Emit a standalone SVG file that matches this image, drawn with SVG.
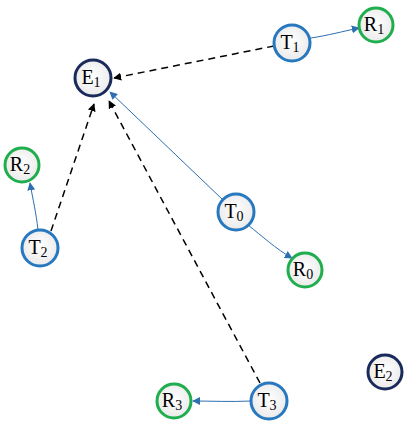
<svg xmlns="http://www.w3.org/2000/svg" width="410" height="425" viewBox="0 0 410 425">
<style>
.n{fill:url(#g);stroke-width:3}
.t{stroke:#2878c0}
.r{stroke:#1fae4e}
.e{stroke:#1a2a5a}
.lb{font-family:"Liberation Serif",serif;font-size:20px;fill:#000;text-anchor:middle}
.sb{font-size:14px}
.d{fill:none;stroke:#000;stroke-width:1.5;stroke-dasharray:7,5}
.b{fill:none;stroke:#2d6fb0;stroke-width:1}
</style>
<defs>
<radialGradient id="g" cx="50%" cy="45%" r="60%"><stop offset="0" stop-color="#ffffff"/><stop offset="1" stop-color="#e8e8e8"/></radialGradient>
<marker id="ak" viewBox="0 0 10 10" refX="9" refY="5" markerWidth="8" markerHeight="8" markerUnits="userSpaceOnUse" orient="auto"><path d="M0,0L10,5L0,10z" fill="#000"/></marker>
<marker id="ab" viewBox="0 0 10 10" refX="9" refY="5" markerWidth="8" markerHeight="8" markerUnits="userSpaceOnUse" orient="auto"><path d="M0,0L10,5L0,10z" fill="#2d6fb0"/></marker>
</defs>
<g id="connectors">
<line class="d" x1="274" y1="46" x2="114" y2="78" marker-end="url(#ak)"/>
<line class="d" x1="51" y1="231" x2="94" y2="104" marker-end="url(#ak)"/>
<line class="d" x1="260" y1="383" x2="109" y2="101" marker-end="url(#ak)"/>
<line class="b" x1="222" y1="199" x2="110" y2="92" marker-end="url(#ab)"/>
<path class="b" d="M311,38 C330,35 340,32 359,28" marker-end="url(#ab)"/>
<path class="b" d="M38,230 C36,212 33,200 30,183" marker-end="url(#ab)"/>
<path class="b" d="M248,225 C262,236 276,249 292,258" marker-end="url(#ab)"/>
<path class="b" d="M251,401 C230,402 212,401 193,401" marker-end="url(#ab)"/>
</g>
<g id="E1"><circle class="n e" cx="93" cy="78" r="18"/><text class="lb" x="91" y="84">E<tspan class="sb" dy="3">1</tspan></text></g>
<g id="T1"><circle class="n t" cx="292" cy="43" r="18"/><text class="lb" x="290" y="49">T<tspan class="sb" dy="3">1</tspan></text></g>
<g id="R1"><circle class="n r" cx="376" cy="25" r="17"/><text class="lb" x="374" y="31">R<tspan class="sb" dy="3">1</tspan></text></g>
<g id="R2"><circle class="n r" cx="22" cy="165" r="17"/><text class="lb" x="20" y="171">R<tspan class="sb" dy="3">2</tspan></text></g>
<g id="T2"><circle class="n t" cx="40" cy="248" r="18"/><text class="lb" x="38" y="254">T<tspan class="sb" dy="3">2</tspan></text></g>
<g id="T0"><circle class="n t" cx="236" cy="212" r="18"/><text class="lb" x="234" y="218">T<tspan class="sb" dy="3">0</tspan></text></g>
<g id="R0"><circle class="n r" cx="305" cy="270" r="17"/><text class="lb" x="303" y="276">R<tspan class="sb" dy="3">0</tspan></text></g>
<g id="R3"><circle class="n r" cx="174" cy="401" r="17"/><text class="lb" x="172" y="407">R<tspan class="sb" dy="3">3</tspan></text></g>
<g id="T3"><circle class="n t" cx="269" cy="401" r="18"/><text class="lb" x="267" y="407">T<tspan class="sb" dy="3">3</tspan></text></g>
<g id="E2"><circle class="n e" cx="385" cy="372" r="17"/><text class="lb" x="383" y="378">E<tspan class="sb" dy="3">2</tspan></text></g>
</svg>
